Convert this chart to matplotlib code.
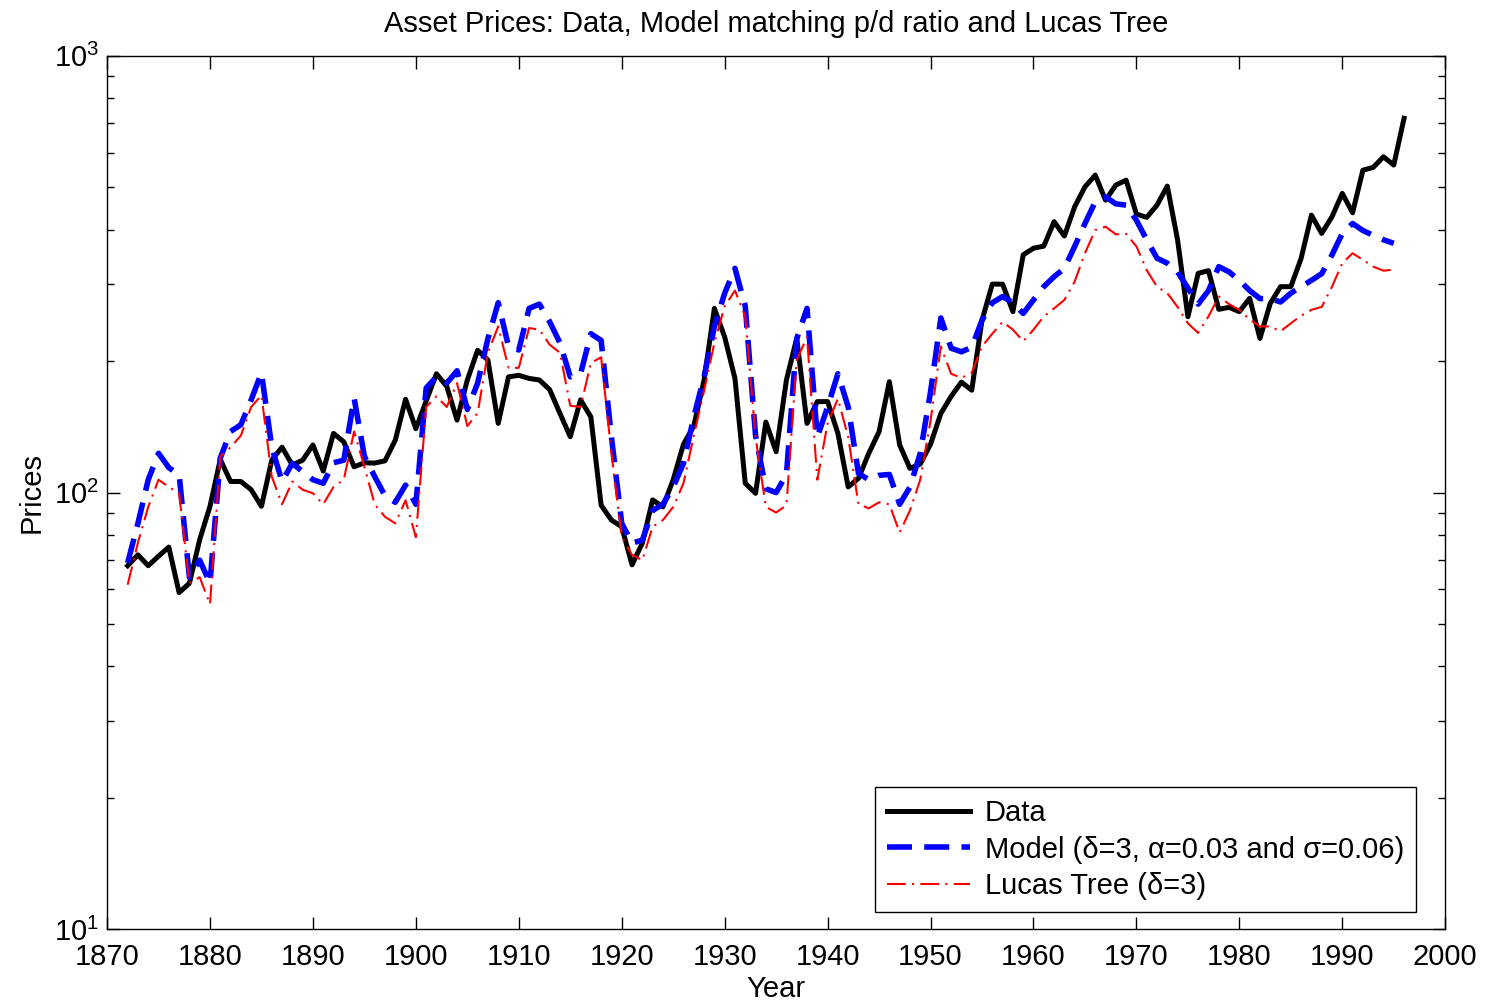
import numpy as np
import matplotlib
matplotlib.use("Agg")
import matplotlib.pyplot as plt
from matplotlib.ticker import FixedLocator, NullFormatter

plt.rcParams['font.family'] = ['Liberation Sans', 'DejaVu Sans']
plt.rcParams['mathtext.fontset'] = 'custom'
plt.rcParams['mathtext.rm'] = 'Liberation Sans'

# Data
years_data = list(range(1872, 1997))
data = [68, 72, 68, 71.5, 75, 59, 62, 78, 93, 119,
        106, 106, 101.5, 93, 118.6, 127, 115.6, 118.6, 128.5, 112,
        136.6, 130.6, 114.5, 117, 116.8, 118.2, 131.8, 163.5, 140, 162,
        187, 175, 146.5, 181, 211.7, 201, 144, 184, 185.5, 182.5,
        181, 172, 151.7, 134.2, 163, 149, 93.5, 86.5, 83.5, 68.3,
        76.6, 96.2, 92.7, 107, 129, 142, 181, 264, 227, 182.5,
        105, 99.6, 145, 124, 181, 225.5, 144, 161.5, 161.5, 136.6,
        103, 107.8, 123, 137.8, 179.4, 128.5, 113.6, 116.2, 129, 151.7,
        166, 179, 171.5, 248, 300, 300, 259.5, 350, 362.5, 366.5,
        417, 386.6, 451, 501, 533, 467, 505.6, 519, 434, 426.6,
        455, 503, 378.6, 252.6, 317.6, 322, 262.7, 265.4, 259.5, 278.4,
        225.3, 271, 296, 296, 343.6, 431.6, 392, 428, 484, 437,
        547, 555, 587, 562, 719]

years_model = list(range(1872, 1996))
model = [69, 85, 107, 123, 114, 110, 64, 70, 62, 120,
         138, 143, 163, 188, 127, 106, 116.7, 111.6, 107, 105,
         117, 118.6, 164.5, 121, 108.8, 98.3, 95, 104, 94, 173.5,
         184, 178, 190, 155, 178, 225, 272, 216, 212, 264,
         270, 246, 220, 184, 187, 231, 223, 134, 85, 76.6,
         77.8, 91, 94, 103, 116.7, 149, 184, 240, 286, 326,
         267, 135, 102, 100, 110, 225, 264, 134, 157, 187,
         157, 110.6, 107, 109.5, 110, 94, 103, 123, 170, 251,
         214, 210, 215, 248, 272, 281, 272, 257, 276, 296,
         312, 326, 366, 413, 463, 475, 458, 455, 420, 379,
         344, 335, 320, 294, 270, 290, 329, 320, 306, 290,
         278, 278, 273, 286, 296, 306, 317, 350, 392, 413,
         398, 388, 379, 372]

lucas = [61.5, 76.8, 92.7, 107, 103, 99.6, 62, 64, 55.5, 121,
         127, 135, 157, 167, 108.8, 94, 106, 101.5, 99.6, 94,
         103, 107, 138, 114.5, 94, 88, 85, 96, 79, 157,
         166, 157, 178, 142, 152, 209, 240, 193, 193, 238,
         236, 218, 209, 158, 157, 198, 204, 123, 79, 72,
         70, 83.5, 86.5, 92.7, 105, 135, 171, 220, 267, 290,
         253, 134, 92.7, 90, 93.5, 201, 227, 107, 144, 164,
         134, 94, 92, 95, 94, 81, 91, 107, 146, 216,
         187, 183, 188, 216, 231, 246, 236, 222, 236, 253,
         264, 276, 304, 353, 399, 406, 390, 391, 366, 323,
         296, 286, 266, 244, 232, 253, 281, 270, 262, 249,
         240, 240, 234, 244, 254, 262, 266, 296, 335, 353,
         341, 329, 322, 324]

fs = 21

fig = plt.figure(figsize=(14.91, 10.06), dpi=100)
ax = fig.add_axes([0.0718, 0.0762, 0.8975, 0.8684])

ax.plot(years_data, data, color='black', lw=3.6, label='Data')
ax.plot(years_model, model, color='blue', lw=4, dashes=(4.5, 2.2),
        label='Model (\u03b4=3, \u03b1=0.03 and \u03c3=0.06)')
ax.plot(years_model, lucas, color='red', lw=1.5, dashes=(9, 3, 1, 3),
        label='Lucas Tree (\u03b4=3)')

ax.set_yscale('log')
ax.set_ylim(10, 1000)
ax.set_xlim(1870, 2000)
ax.set_xticks(np.arange(1870, 2001, 10))
ax.set_yticks([10, 100, 1000])
ax.set_yticklabels([r'$\mathregular{10^{1}}$', r'$\mathregular{10^{2}}$', r'$\mathregular{10^{3}}$'])
minors = [m * 10 ** e for e in (1, 2) for m in range(2, 10)]
ax.yaxis.set_minor_locator(FixedLocator(minors))
ax.yaxis.set_minor_formatter(NullFormatter())

ax.tick_params(which='both', direction='in', top=True, right=True, labelsize=fs, width=1)
ax.tick_params(which='major', length=9)
ax.tick_params(which='minor', length=5)
ax.tick_params(axis='x', pad=10)
ax.tick_params(axis='y', pad=6)
for s in ax.spines.values():
    s.set_linewidth(1)

ax.set_xlabel('Year', fontsize=fs, labelpad=3)
ax.set_ylabel('Prices', fontsize=fs, labelpad=6)
ax.set_title('Asset Prices: Data, Model matching p/d ratio and Lucas Tree', fontsize=fs, pad=17)

leg = ax.legend(loc='lower right', bbox_to_anchor=(0.978, 0.0198), borderaxespad=0,
                fontsize=fs, handlelength=2.85, handletextpad=0.5, labelspacing=0.3,
                fancybox=False, framealpha=1, edgecolor='black', borderpad=0.4)
leg.get_frame().set_linewidth(1)

plt.savefig('out.png', dpi=100)
